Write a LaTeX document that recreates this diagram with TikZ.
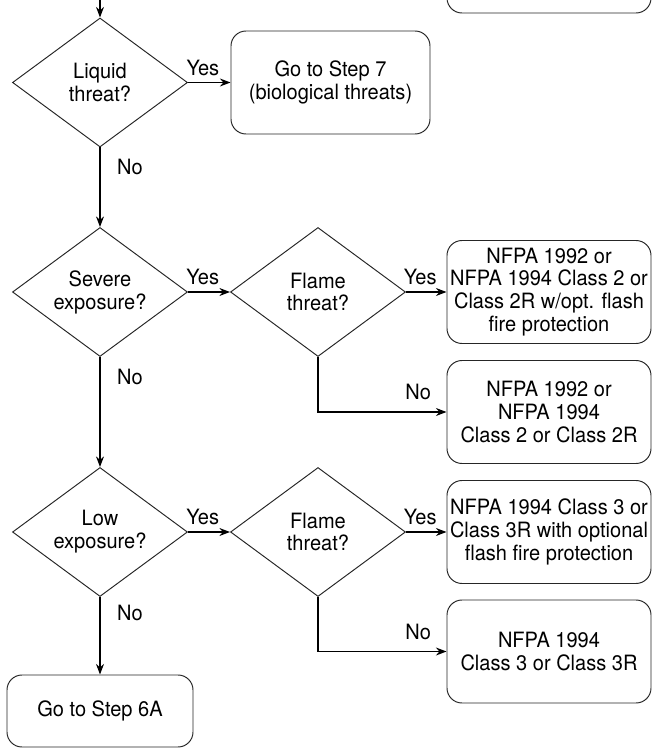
\documentclass[tikz,border=0pt]{standalone}
\usepackage{fontspec}
\setmainfont[FakeStretch=0.95]{TeX Gyre Heros}
\usetikzlibrary{shapes.geometric,arrows.meta}

\tikzset{
  decision/.style={diamond, draw=black!85, line width=0.55pt, aspect=1.36,
    minimum width=3.5cm, minimum height=2.58cm, inner sep=0pt, align=center},
  outcome/.style={rectangle, rounded corners=0.3cm, draw=black!85, line width=0.55pt,
    minimum width=4.08cm, minimum height=2.06cm, inner sep=1pt, align=center},
  flow/.style={line width=0.95pt, -{Stealth[length=6pt,width=4.5pt]}}
}

\begin{document}
\begin{tikzpicture}[font=\fontsize{12}{13}\selectfont]
  \useasboundingbox (0,0) rectangle (13.04,-14.96);
  \clip (0,0) rectangle (13.04,-14.96);

  % box of the previous step, cut off at the top
  \node[outcome] (prev) at (10.98,0.77) {};
  \coordinate (in) at (2,0.2);

  \node[decision] (liquid) at (2,-1.65) {Liquid\\threat?};
  \node[outcome, minimum width=3.98cm] (step7) at (6.61,-1.65) {Go to Step 7\\(biological threats)};

  \node[decision] (severe) at (2,-5.84) {Severe\\exposure?};
  \node[decision] (flameA) at (6.36,-5.84) {Flame\\threat?};
  \node[outcome] (nfpaA) at (10.98,-5.84) {NFPA 1992 or\\NFPA 1994 Class 2 or\\Class 2R w/opt. flash\\fire protection};
  \node[outcome] (nfpaB) at (10.98,-8.24) {NFPA 1992 or\\NFPA 1994\\Class 2 or Class 2R};

  \node[decision] (low) at (2,-10.64) {Low\\exposure?};
  \node[decision] (flameB) at (6.36,-10.64) {Flame\\threat?};
  \node[outcome] (nfpaC) at (10.98,-10.64) {NFPA 1994 Class 3 or\\Class 3R with optional\\flash fire protection};
  \node[outcome] (nfpaD) at (10.98,-13.03) {NFPA 1994\\Class 3 or Class 3R};

  \node[outcome, minimum width=3.72cm, minimum height=1.44cm] (step6a) at (2,-14.22) {Go to Step 6A};

  \draw[flow] (in) -- (liquid);
  \draw[flow] (liquid) -- node[pos=0.35, above] {Yes} (step7);
  \draw[flow] (liquid) -- node[pos=0.25, right=6pt] {No} (severe);

  \draw[flow] (severe) -- node[pos=0.35, above] {Yes} (flameA);
  \draw[flow] (flameA) -- node[pos=0.35, above] {Yes} (nfpaA);
  \draw[flow] (flameA.south) |- node[pos=0.89, above=3pt] {No} (nfpaB.west);
  \draw[flow] (severe) -- node[pos=0.18, right=6pt] {No} (low);

  \draw[flow] (low) -- node[pos=0.35, above] {Yes} (flameB);
  \draw[flow] (flameB) -- node[pos=0.35, above] {Yes} (nfpaC);
  \draw[flow] (flameB.south) |- node[pos=0.89, above=3pt] {No} (nfpaD.west);
  \draw[flow] (low) -- node[pos=0.2, right=6pt] {No} (step6a);
\end{tikzpicture}
\end{document}
